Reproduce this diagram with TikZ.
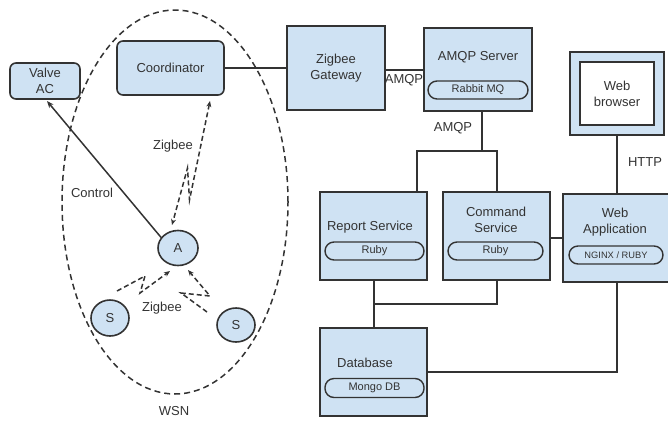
\documentclass[tikz,border=0pt]{standalone}
\usepackage{fontspec}
\setmainfont{Liberation Sans}
\usetikzlibrary{shapes.geometric,arrows.meta,calc}
\definecolor{boxfill}{HTML}{CFE2F3}
\definecolor{edge}{HTML}{333333}
\begin{document}
\begin{tikzpicture}[x=1pt,y=-1pt,
  every node/.style={font=\fontsize{13}{16}\selectfont, text=edge},
  box/.style={draw=edge, line width=1.6pt, fill=boxfill, inner sep=0pt, align=center},
  rbox/.style={box, rounded corners=6pt},
  pill/.style={draw=edge, line width=1.4pt, fill=boxfill, rounded corners=9pt, inner sep=0pt, font=\fontsize{11}{13}\selectfont},
  circ/.style={draw=edge, line width=1.6pt, fill=boxfill, ellipse, inner sep=0pt},
  conn/.style={draw=edge, line width=1.5pt},
  zig/.style={draw=edge, line width=1.5pt, dash pattern=on 5pt off 3pt, -{Stealth[length=6pt,width=5pt]}},
  lbl/.style={inner sep=0pt}]
\useasboundingbox (0,0) rectangle (668,426);
\clip (0,0) rectangle (668,426);

% WSN area
\draw[edge, line width=1.5pt, dash pattern=on 6pt off 4pt] (175,202) ellipse [x radius=113pt, y radius=192pt];
\node[lbl] (wsn) at (174,411) {WSN};

% left nodes
\node[rbox, minimum width=70pt, minimum height=36pt] (valve) at (45,81) {Valve\\AC};
\node[rbox, minimum width=107pt, minimum height=54pt] (coord) at (170.5,68) {Coordinator};
\node[circ, minimum width=40pt, minimum height=35pt] (A) at (178,248) {A};
\node[circ, minimum width=38pt, minimum height=36pt] (S1) at (110,318) {S};
\node[circ, minimum width=38pt, minimum height=34pt] (S2) at (236,325) {S};

% gateway and server
\node[box, minimum width=98pt, minimum height=84pt] (gw) at (336,68) {Zigbee\\Gateway};
\node[box, minimum width=108pt, minimum height=83pt] (amqp) at (478,69.5) {};
\node[lbl] (amqpt) at (478,57) {AMQP Server};
\node[pill, minimum width=100pt, minimum height=18pt] (rabbit) at (478,90) {Rabbit MQ};

% web browser
\node[box, minimum width=94pt, minimum height=83pt] (browser) at (617,93.5) {};
\node[draw=edge, line width=1.6pt, fill=white, minimum width=74pt, minimum height=63pt, inner sep=0pt, align=center] (browseri) at (617,93.5) {Web\\browser};

% services
\node[box, minimum width=107pt, minimum height=88pt] (report) at (373.5,236) {};
\node[lbl] (reportt) at (370,227) {Report Service};
\node[pill, minimum width=99pt, minimum height=18pt] (rruby) at (374.5,251) {Ruby};

\node[box, minimum width=107pt, minimum height=88pt] (command) at (496.5,236) {};
\node[lbl, align=center] (commandt) at (496,220) {Command\\Service};
\node[pill, minimum width=95pt, minimum height=18pt] (cruby) at (495.5,251) {Ruby};

\node[box, minimum width=109pt, minimum height=88pt] (webapp) at (617.5,238) {};
\node[lbl, align=center] (webappt) at (615,222) {Web\\Application};
\node[pill, minimum width=94pt, minimum height=18pt, font=\fontsize{9.3}{11}\selectfont] (nginx) at (616,255) {NGINX / RUBY};

\node[box, minimum width=107pt, minimum height=88pt] (db) at (373.5,372) {};
\node[lbl] (dbt) at (365,363) {Database};
\node[pill, minimum width=99pt, minimum height=19pt] (mongo) at (374.5,388) {Mongo DB};

% connectors
\draw[conn] (coord.east) -- (gw.west |- coord.east);
\draw[conn] (gw.east |- 0,70) -- (amqp.west |- 0,70);
\node[lbl] (amqp1) at (404,80) {AMQP};

\coordinate (j1) at (482,151);
\coordinate (j1l) at (417,151);
\coordinate (j1r) at (497,151);
\draw[conn] (amqp.south -| j1) -- (j1);
\draw[conn] (report.north -| j1l) -- (j1l) -- (j1r) -- (command.north -| j1r);
\node[lbl] (amqp2) at (453,128) {AMQP};

\draw[conn] (browser.south) -- (webapp.north -| browser.south);
\node[lbl] (http) at (645,162) {HTTP};

\draw[conn] (command.east |- 0,238) -- (webapp.west |- 0,238);

\coordinate (j2) at (374,304);
\coordinate (j2r) at (497,304);
\draw[conn] (report.south -| j2) -- (db.north -| j2);
\draw[conn] (j2) -- (j2r) -- (command.south -| j2r);

\coordinate (j3) at (617,372);
\draw[conn] (db.east |- j3) -- (j3) -- (webapp.south -| j3);

% control
\draw[conn, -{Stealth[length=7pt,width=5.5pt]}] (A.148) -- (47,101);
\node[lbl] (control) at (92,193) {Control};

% zigbee links
\coordinate (zc) at (210,101);
\coordinate (zk1) at (189.5,200);
\coordinate (zk2) at (187.5,168);
\coordinate (za) at (172,225);
\draw[zig, {Stealth[length=6pt,width=5pt]}-{Stealth[length=6pt,width=5pt]}] (zc) -- (zk1) -- (zk2) -- (za);
\node[lbl] (zig1) at (173,146) {Zigbee};

\coordinate (s1a) at (117,291);
\coordinate (s1b) at (145,276);
\coordinate (s1c) at (140,293);
\coordinate (s1d) at (170,271);
\draw[zig] (s1a) -- (s1b) -- (s1c) -- (s1d);

\coordinate (s2a) at (207,312);
\coordinate (s2b) at (181,293);
\coordinate (s2c) at (210,296);
\coordinate (s2d) at (188,270);
\draw[zig] (s2a) -- (s2b) -- (s2c) -- (s2d);
\node[lbl] (zig2) at (162,308) {Zigbee};
\end{tikzpicture}
\end{document}
